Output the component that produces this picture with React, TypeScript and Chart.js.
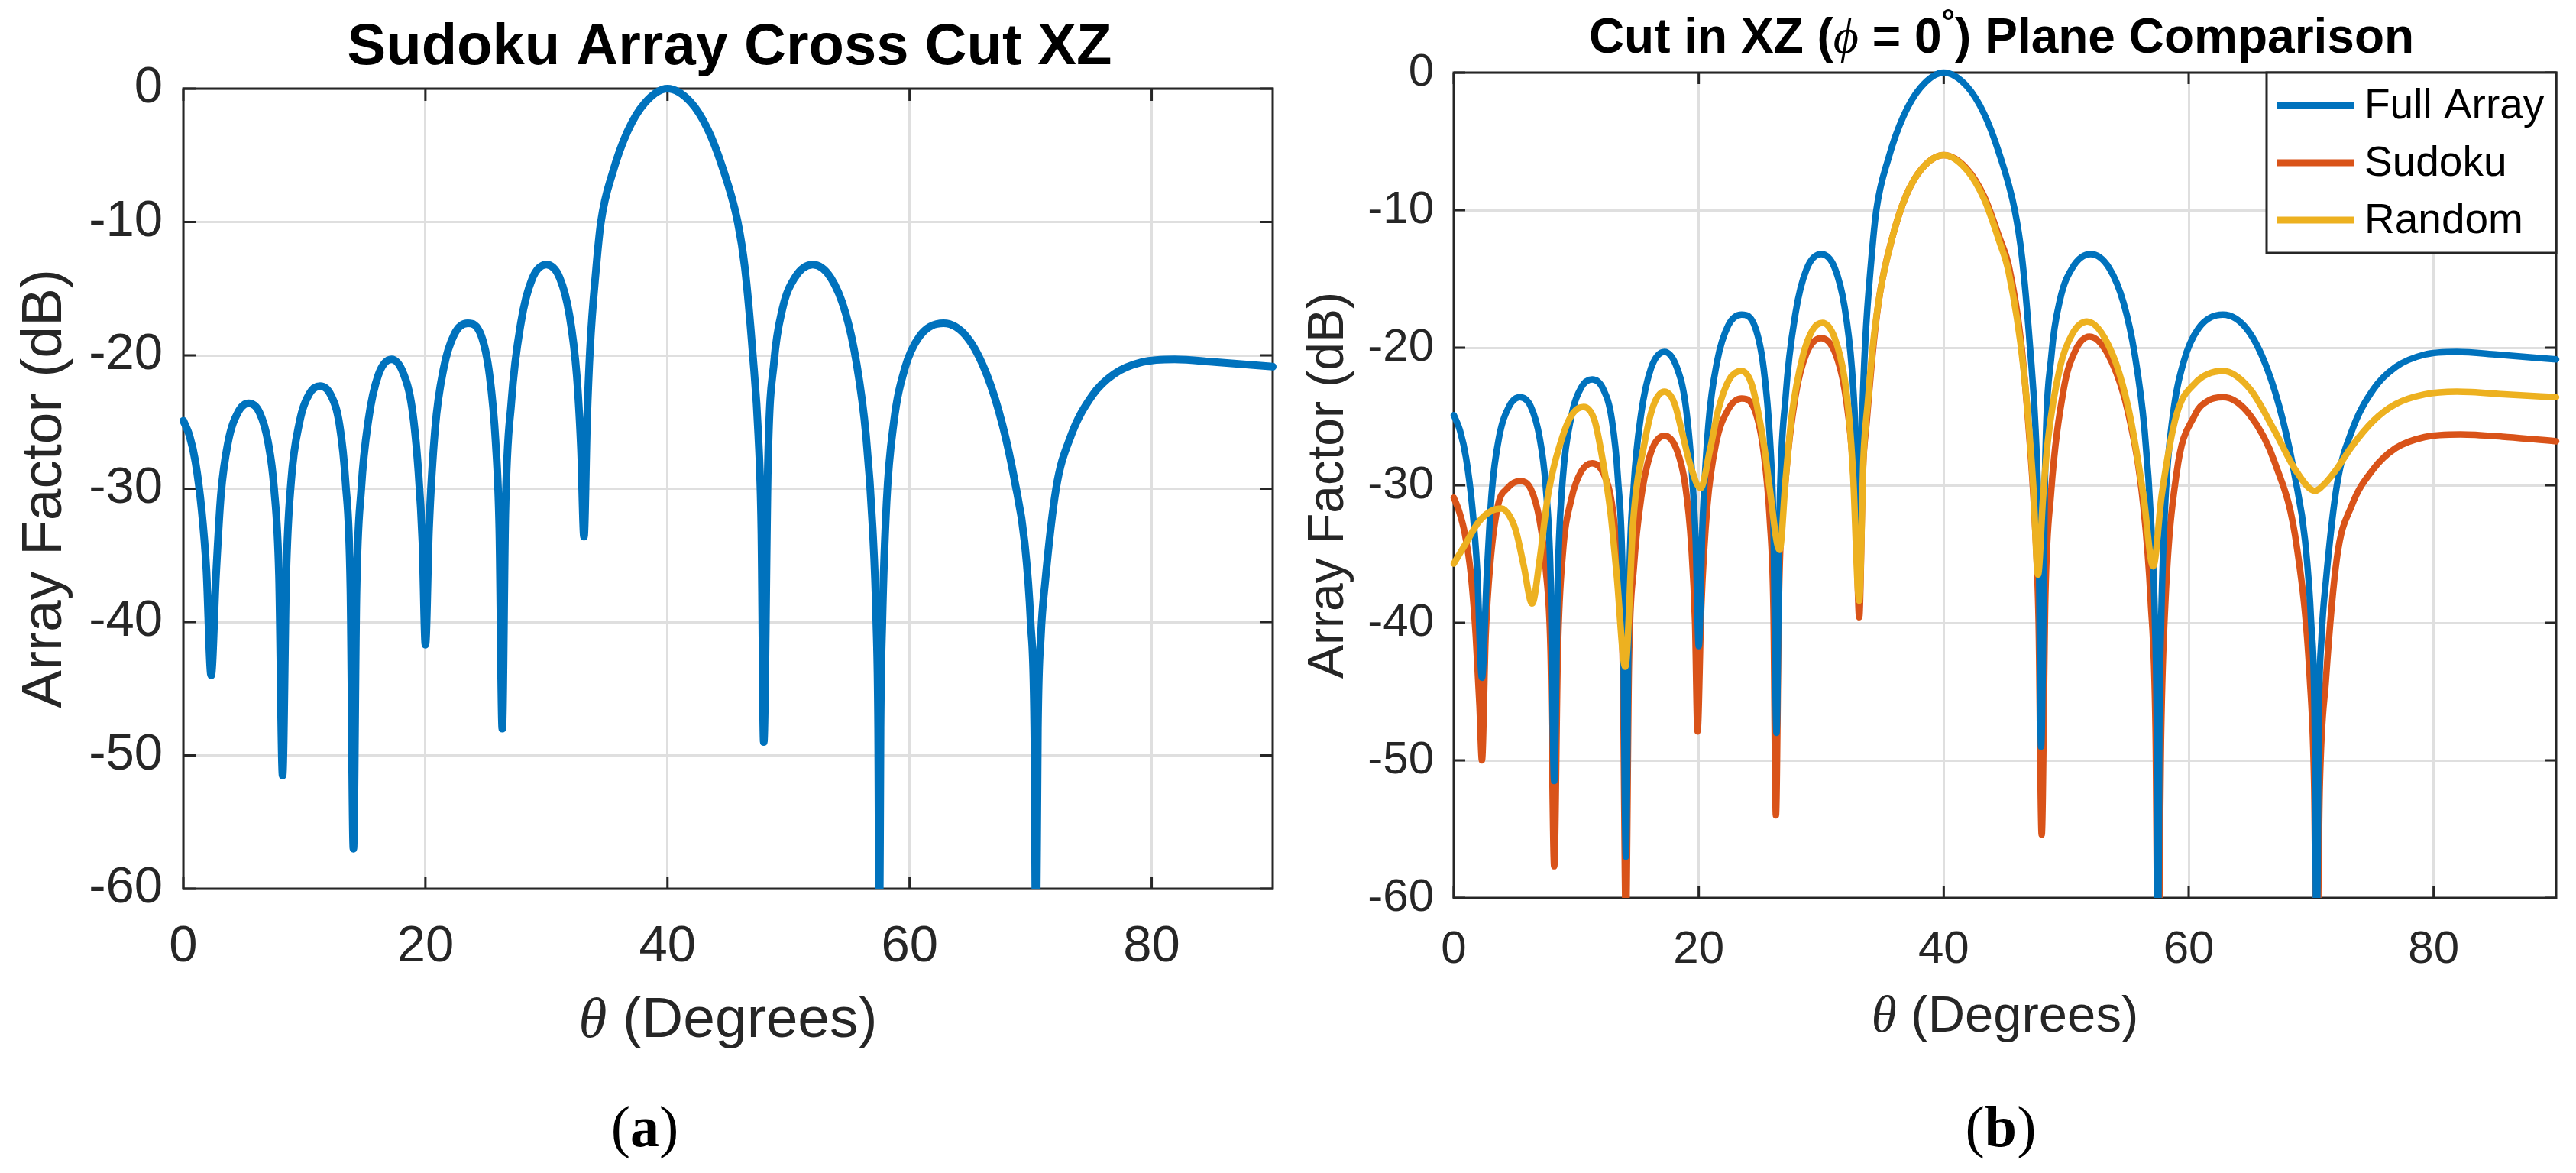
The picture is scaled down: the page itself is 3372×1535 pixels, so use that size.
import { useEffect, useRef } from 'react';
import { Chart, registerables } from 'chart.js';

Chart.register(...registerables);

// theta in degrees, array factor in dB
const fullTheta = [
  0, 0.5, 1.0, 1.5, 1.9, 2.3, 2.7, 3.1, 3.7, 4.5, 5.4, 6.3, 7.0, 7.5, 7.9, 8.2, 8.5, 8.9, 9.6, 10.4,
  11.3, 12.2, 12.9, 13.4, 13.8, 14.05, 14.3, 14.7, 15.3, 16.1, 17.2, 18.2, 18.9, 19.4, 19.75, 20.0, 20.3, 20.8, 21.5, 22.4,
  23.5, 24.6, 25.3, 25.8, 26.1, 26.35, 26.6, 27.1, 27.9, 28.8, 30.0, 31.1, 31.9, 32.5, 32.85, 33.1, 33.35, 33.6, 34.1, 34.5,
  35.5, 36.7, 38.1, 40.0, 41.9, 43.3, 44.5, 45.8, 46.4, 47.05, 47.5, 47.75, 47.95, 48.3, 48.8, 49.5, 50.5, 52.0, 53.5, 54.7,
  55.6, 56.4, 56.95, 57.25, 57.4, 57.5, 57.6, 57.75, 58.1, 58.7, 59.6, 60.8, 62.8, 64.8, 66.4, 67.7, 68.7, 69.5, 70.0, 70.3,
  70.45, 70.6, 70.85, 71.2, 72.1, 73.3, 75.1, 76.9, 79.25, 81.9, 85.2, 90,
];
const fullDb = [
  -24.9, -26.0, -28.0, -31.5, -36.0, -44.0, -36.5, -30.5, -26.5, -24.3, -23.6, -24.3, -26.5, -30.0, -36.5, -51.5, -36.5, -29.5, -25.0, -22.9,
  -22.3, -23.0, -25.2, -29.5, -37.5, -57.0, -38.0, -30.0, -24.8, -21.5, -20.3, -21.4, -24.0, -28.5, -34.0, -41.7, -33.0, -25.5, -21.0, -18.4,
  -17.6, -18.5, -21.5, -26.5, -33.0, -48.0, -32.0, -23.5, -17.5, -14.3, -13.2, -14.2, -17.0, -21.5, -27.0, -33.6, -25.0, -19.5, -13.5, -10.0,
  -6.2, -3.2, -1.1, 0, -1.0, -3.0, -5.8, -10.0, -13.5, -20.0, -26.0, -33.0, -49.0, -28.0, -20.5, -16.5, -14.2, -13.2, -14.2, -16.8,
  -20.5, -26.0, -33.0, -40.0, -48.0, -66, -48.0, -40.0, -31.0, -25.0, -21.0, -18.6, -17.6, -18.7, -21.5, -25.3, -29.5, -34.0, -40.0, -48.0,
  -66, -48.0, -41.0, -37.0, -30.0, -26.1, -23.0, -21.4, -20.5, -20.3, -20.5, -20.85,
];

const sudokuTheta = [
  0, 0.4, 0.9, 1.4, 1.8, 2.1, 2.3, 2.6, 3.0, 3.6, 4.4, 5.4, 6.3, 7.0, 7.5, 7.9, 8.2, 8.5, 8.9, 9.6,
  10.4, 11.3, 12.2, 12.9, 13.4, 13.8, 14.05, 14.3, 14.7, 15.3, 16.1, 17.2, 18.2, 18.9, 19.4, 19.7, 19.9, 20.2, 20.7, 21.4,
  22.4, 23.5, 24.6, 25.3, 25.8, 26.1, 26.3, 26.55, 27.1, 27.9, 28.8, 30.0, 31.1, 31.9, 32.5, 32.85, 33.1, 33.4, 33.7, 34.3,
  34.8, 35.8, 36.9, 38.2, 40.0, 41.9, 43.3, 44.55, 45.3, 46.3, 46.95, 47.4, 47.75, 48.0, 48.3, 48.75, 49.8, 50.7, 51.9, 53.7,
  55.1, 56.3, 56.9, 57.3, 57.5, 57.75, 58.1, 59.0, 60.5, 61.5, 62.8, 65.0, 67.05, 68.85, 69.9, 70.25, 70.45, 70.7, 71.2, 72.1,
  73.3, 75.1, 76.9, 79.25, 82.2, 86, 90,
];
const sudokuDb = [
  -30.9, -31.8, -33.5, -36.5, -41.0, -46.0, -50.0, -41.0, -35.5, -31.5, -30.2, -29.7, -30.3, -32.5, -36.0, -42.0, -57.7, -42.0, -35.0, -31.0,
  -29.0, -28.4, -29.1, -31.3, -35.5, -43.0, -62, -43.0, -36.0, -30.9, -27.6, -26.4, -27.4, -30.0, -34.5, -40.0, -47.9, -39.0, -31.5, -27.0,
  -24.5, -23.7, -24.6, -27.6, -32.5, -39.0, -54.0, -38.0, -29.5, -23.5, -20.4, -19.3, -20.3, -23.0, -27.5, -33.0, -39.6, -29.0, -25.5, -19.5,
  -16.0, -12.0, -9.0, -7.0, -6.0, -7.0, -9.0, -12.0, -14.0, -19.5, -26.0, -32.0, -40.0, -55.4, -38.0, -30.7, -23.0, -20.3, -19.2, -21.0,
  -24.9, -31.5, -38.4, -48.0, -66, -48.0, -38.4, -29.2, -24.9, -23.9, -23.6, -24.9, -28.4, -34.6, -44.2, -52.0, -66, -52.0, -44.2, -35.3,
  -31.5, -28.8, -27.3, -26.5, -26.3, -26.5, -26.8,
];

const randomTheta = [
  0, 1.0, 2.0, 3.0, 3.9, 4.6, 5.1, 5.7, 6.4, 7.0, 7.7, 8.9, 9.7, 10.6, 11.5, 12.2, 12.8, 13.3, 14.0, 14.65,
  15.6, 16.3, 17.2, 18.0, 18.6, 19.3, 20.15, 20.9, 21.6, 22.5, 23.5, 24.3, 24.9, 25.4, 25.8, 26.6, 27.1, 27.6, 28.5, 29.3,
  30.1, 31.1, 31.9, 32.3, 32.6, 33.1, 33.45, 33.8, 34.2, 34.8, 35.8, 36.9, 38.2, 40.0, 41.9, 43.3, 44.55, 45.3, 46.5, 47.3,
  47.7, 48.1, 48.5, 49.5, 50.5, 51.7, 53.7, 55.1, 56.3, 57.1, 57.8, 59.0, 60.5, 62.8, 65.0, 67.05, 68.8, 70.3, 71.2, 72.1,
  73.3, 75.1, 76.9, 79.25, 81.9, 86, 90,
];
const randomDb = [
  -35.7, -34.2, -32.7, -31.9, -31.7, -32.3, -33.4, -35.8, -38.6, -35.5, -30.7, -26.4, -24.8, -24.3, -25.3, -28.4, -32.0, -36.5, -43.2, -32.6,
  -26.8, -24.2, -23.2, -24.0, -26.0, -28.5, -30.2, -27.5, -24.5, -22.3, -21.7, -22.6, -24.9, -27.5, -30.3, -34.7, -29.5, -24.9, -20.6, -18.7,
  -18.2, -19.3, -22.2, -25.3, -29.2, -38.4, -28.0, -24.0, -20.0, -16.0, -12.0, -9.0, -7.0, -6.0, -7.1, -9.2, -12.3, -14.5, -21.4, -29.9,
  -36.5, -31.0, -26.8, -21.4, -19.0, -18.1, -20.3, -24.5, -30.7, -35.9, -30.7, -24.9, -22.6, -21.7, -23.0, -26.1, -29.0, -30.4, -29.8, -28.8,
  -27.2, -25.3, -24.1, -23.4, -23.2, -23.4, -23.6,
];

const xTicks = [0, 20, 40, 60, 80];
const yTicks = [-60, -50, -40, -30, -20, -10, 0];

const series = [
  { name: 'Full Array', color: '#0072BD', theta: fullTheta, db: fullDb, order: 2 },
  { name: 'Sudoku', color: '#D95319', theta: sudokuTheta, db: sudokuDb, order: 3 },
  { name: 'Random', color: '#EDB120', theta: randomTheta, db: randomDb, order: 1 },
];

type Run = { text: string; font: string; rise?: number };

const sans = (px: number, bold = false) => `${bold ? 'bold ' : ''}${px}px "Liberation Sans", Arial, sans-serif`;
const serif = (px: number, style = '') => `${style} ${px}px "Liberation Serif", "DejaVu Serif", serif`.trim();

const INK = '#262626';
const H = 1535;

function drawRuns(ctx: CanvasRenderingContext2D, runs: Run[], cx: number, baseline: number) {
  let total = 0;
  const widths = runs.map((r) => {
    ctx.font = r.font;
    const w = ctx.measureText(r.text).width;
    total += w;
    return w;
  });
  let x = cx - total / 2;
  ctx.textAlign = 'left';
  ctx.textBaseline = 'alphabetic';
  runs.forEach((r, i) => {
    ctx.font = r.font;
    ctx.fillText(r.text, x, baseline - (r.rise ?? 0));
    x += widths[i];
  });
}

type Spec = {
  left: number;
  width: number;
  area: { left: number; top: number; right: number; bottom: number };
  tickFont: number;
  padX: number;
  padY: number;
  lineWidth: number;
  tickLen: number;
  show: number[];
  title: Run[];
  titleX: number;
  titleY: number;
  xLabel: Run[];
  xLabelY: number;
  yLabel: Run[];
  yLabelX: number;
  caption: Run[];
  captionX: number;
  captionY: number;
  legend?: { left: number; top: number; right: number; bottom: number; rows: number[]; x0: number; x1: number; textX: number; font: number };
};

const thetaLabel = (px: number): Run[] => [
  { text: 'θ', font: serif(px, 'italic') },
  { text: ' (Degrees)', font: sans(px) },
];
const caption = (letter: string): Run[] => [
  { text: '(', font: serif(76) },
  { text: letter, font: serif(76, 'bold') },
  { text: ')', font: serif(76) },
];

const specA: Spec = {
  left: 0,
  width: 1700,
  area: { left: 240, top: 116, right: 1666, bottom: 1163 },
  tickFont: 67,
  padX: 36,
  padY: 27,
  lineWidth: 10,
  tickLen: 16,
  show: [0],
  title: [{ text: 'Sudoku Array Cross Cut XZ', font: sans(76, true) }],
  titleX: 955,
  titleY: 84,
  xLabel: thetaLabel(75),
  xLabelY: 1357,
  yLabel: [{ text: 'Array Factor (dB)', font: sans(75) }],
  yLabelX: 80,
  caption: caption('a'),
  captionX: 844,
  captionY: 1500,
};

const specB: Spec = {
  left: 1700,
  width: 1672,
  area: { left: 203, top: 95, right: 1646, bottom: 1175 },
  tickFont: 60,
  padX: 32,
  padY: 26,
  lineWidth: 8.5,
  tickLen: 15,
  show: [0, 1, 2],
  title: [
    { text: 'Cut in XZ (', font: sans(64, true) },
    { text: 'ϕ', font: serif(64, 'italic') },
    { text: ' = 0', font: sans(64, true) },
    { text: '°', font: sans(44, true), rise: 26 },
    { text: ') Plane Comparison', font: sans(64, true) },
  ],
  titleX: 920,
  titleY: 69,
  xLabel: thetaLabel(67),
  xLabelY: 1350,
  yLabel: [{ text: 'Array Factor (dB)', font: sans(66) }],
  yLabelX: 58,
  caption: caption('b'),
  captionX: 919,
  captionY: 1500,
  legend: { left: 1267, top: 95, right: 1646, bottom: 331, rows: [138, 213, 288], x0: 1280, x1: 1381, textX: 1395, font: 55 },
};

function Panel({ spec }: { spec: Spec }) {
  const canvasRef = useRef<HTMLCanvasElement | null>(null);

  useEffect(() => {
    if (!canvasRef.current) return;
    const a = spec.area;

    const axesBox = {
      id: 'axesBox',
      beforeDatasetsDraw(chart: any) {
        const { ctx, chartArea: c, scales } = chart;
        ctx.save();
        ctx.strokeStyle = INK;
        ctx.lineWidth = 3;
        ctx.beginPath();
        xTicks.forEach((v) => {
          const px = scales.x.getPixelForValue(v);
          ctx.moveTo(px, c.bottom);
          ctx.lineTo(px, c.bottom - spec.tickLen);
          ctx.moveTo(px, c.top);
          ctx.lineTo(px, c.top + spec.tickLen);
        });
        yTicks.forEach((v) => {
          const py = scales.y.getPixelForValue(v);
          ctx.moveTo(c.left, py);
          ctx.lineTo(c.left + spec.tickLen, py);
          ctx.moveTo(c.right, py);
          ctx.lineTo(c.right - spec.tickLen, py);
        });
        ctx.stroke();
        ctx.strokeRect(c.left, c.top, c.right - c.left, c.bottom - c.top);
        ctx.restore();
      },
    };

    const boxLegend = {
      id: 'boxLegend',
      afterDatasetsDraw(chart: any) {
        const lg = spec.legend;
        if (!lg) return;
        const { ctx } = chart;
        ctx.save();
        ctx.fillStyle = '#ffffff';
        ctx.fillRect(lg.left, lg.top, lg.right - lg.left, lg.bottom - lg.top);
        ctx.strokeStyle = INK;
        ctx.lineWidth = 3;
        ctx.strokeRect(lg.left, lg.top, lg.right - lg.left, lg.bottom - lg.top);
        series.forEach((s, i) => {
          const y = lg.rows[i];
          ctx.strokeStyle = s.color;
          ctx.lineWidth = 9;
          ctx.beginPath();
          ctx.moveTo(lg.x0, y);
          ctx.lineTo(lg.x1, y);
          ctx.stroke();
          ctx.fillStyle = '#000000';
          ctx.font = sans(lg.font);
          ctx.textAlign = 'left';
          ctx.textBaseline = 'middle';
          ctx.fillText(s.name, lg.textX, y + 2);
        });
        ctx.restore();
      },
    };

    const textLayer = {
      id: 'textLayer',
      afterDraw(chart: any) {
        const { ctx } = chart;
        ctx.save();
        ctx.fillStyle = '#000000';
        drawRuns(ctx, spec.title, spec.titleX, spec.titleY);
        ctx.fillStyle = INK;
        drawRuns(ctx, spec.xLabel, (a.left + a.right) / 2, spec.xLabelY);
        ctx.save();
        ctx.translate(spec.yLabelX, (a.top + a.bottom) / 2);
        ctx.rotate(-Math.PI / 2);
        drawRuns(ctx, spec.yLabel, 0, 0);
        ctx.restore();
        ctx.fillStyle = '#000000';
        drawRuns(ctx, spec.caption, spec.captionX, spec.captionY);
        ctx.restore();
      },
    };

    const chart = new Chart(canvasRef.current, {
      type: 'line',
      data: {
        datasets: spec.show.map((k) => {
          const s = series[k];
          return {
            label: s.name,
            data: s.theta.map((t, i) => ({ x: t, y: s.db[i] })),
            borderColor: s.color,
            backgroundColor: s.color,
            borderWidth: spec.lineWidth,
            borderJoinStyle: 'round' as const,
            borderCapStyle: 'round' as const,
            pointRadius: 0,
            cubicInterpolationMode: 'monotone' as const,
            order: s.order,
            clip: { left: 6, top: 6, right: 6, bottom: 0 },
          };
        }),
      },
      options: {
        responsive: false,
        animation: false,
        events: [],
        layout: { padding: { left: 0, top: a.top, right: spec.width - a.right, bottom: 0 } },
        plugins: { legend: { display: false }, tooltip: { enabled: false }, title: { display: false } },
        scales: {
          x: {
            type: 'linear',
            min: 0,
            max: 90,
            afterBuildTicks: (scale: any) => {
              scale.ticks = xTicks.map((value) => ({ value }));
            },
            afterFit: (scale: any) => {
              scale.height = H - a.bottom;
            },
            grid: { color: '#dfdfdf', lineWidth: 3, drawTicks: false },
            border: { display: false },
            ticks: {
              color: INK,
              padding: spec.padX,
              maxRotation: 0,
              font: { family: '"Liberation Sans", Arial, sans-serif', size: spec.tickFont },
            },
          },
          y: {
            type: 'linear',
            min: -60,
            max: 0,
            afterBuildTicks: (scale: any) => {
              scale.ticks = yTicks.map((value) => ({ value }));
            },
            afterFit: (scale: any) => {
              scale.width = a.left;
            },
            grid: { color: '#dfdfdf', lineWidth: 3, drawTicks: false },
            border: { display: false },
            ticks: {
              color: INK,
              padding: spec.padY,
              font: { family: '"Liberation Sans", Arial, sans-serif', size: spec.tickFont },
            },
          },
        },
      },
      plugins: [axesBox, boxLegend, textLayer],
    });

    return () => {
      chart.destroy();
    };
  }, []);

  return (
    <canvas
      ref={canvasRef}
      width={spec.width}
      height={H}
      style={{ position: 'absolute', left: spec.left, top: 0, width: spec.width, height: H }}
    />
  );
}

export default function App() {
  return (
    <div style={{ position: 'absolute', left: 0, top: 0, width: 3372, height: H, background: '#ffffff', overflow: 'hidden' }}>
      <Panel spec={specA} />
      <Panel spec={specB} />
    </div>
  );
}
